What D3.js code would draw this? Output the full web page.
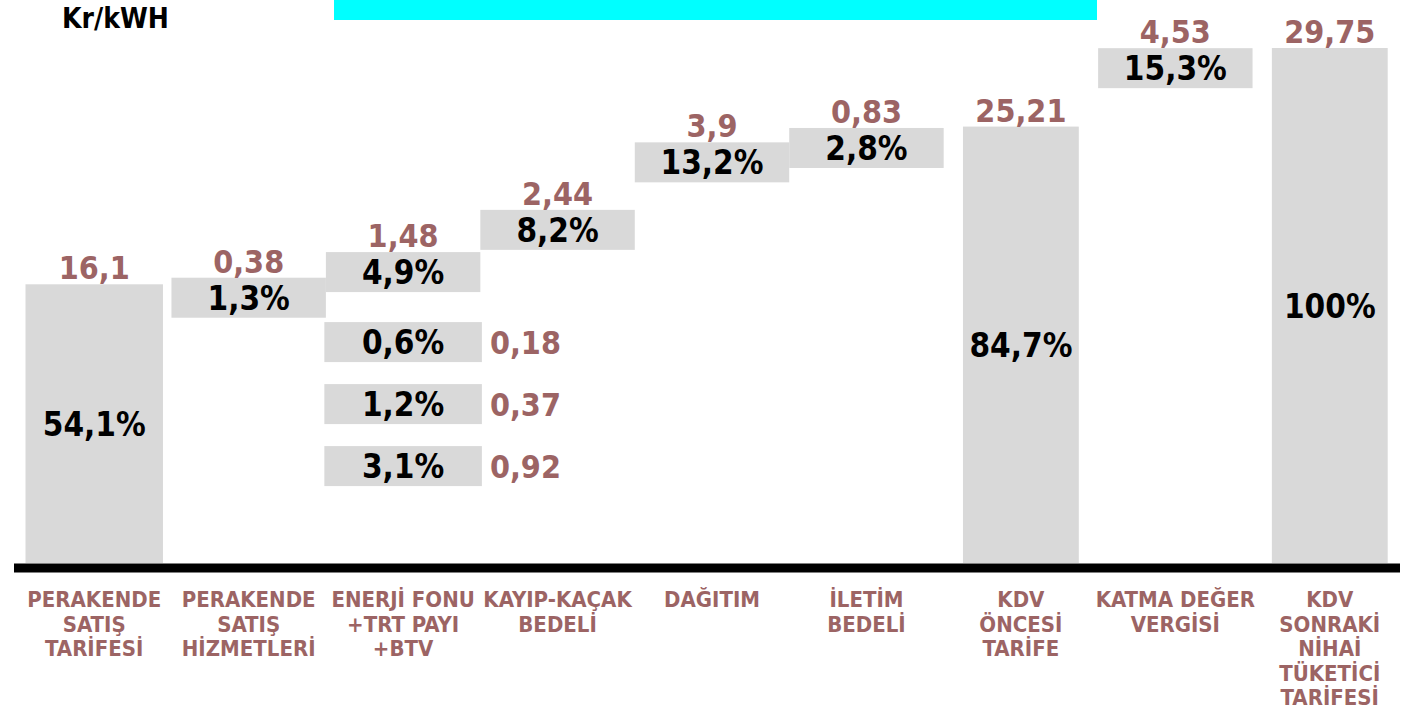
<!DOCTYPE html>
<html>
<head>
<meta charset="utf-8">
<script src="https://cdn.jsdelivr.net/npm/d3@7"></script>
<style>
    html, body { margin: 0; padding: 0; background: #fff; overflow: hidden; }
    text { font-family: "DejaVu Sans Condensed", "DejaVu Sans", sans-serif; font-stretch: condensed; font-weight: bold; }
</style>
</head>
<body>
<div id="chart"></div>
<script>
// Kalemler (soldan saga)
const categories = [
    ["PERAKENDE", "SATIŞ", "TARİFESİ"],
    ["PERAKENDE", "SATIŞ", "HİZMETLERİ"],
    ["ENERJİ FONU", "+TRT PAYI", "+BTV"],
    ["KAYIP-KAÇAK", "BEDELİ"],
    ["DAĞITIM"],
    ["İLETİM", "BEDELİ"],
    ["KDV", "ÖNCESİ", "TARİFE"],
    ["KATMA DEĞER", "VERGİSİ"],
    ["KDV", "SONRAKİ", "NİHAİ", "TÜKETİCİ", "TARİFESİ"]
];
// start = ilk sutun, step = ara kalem, total = ara/nihai toplam
const kinds = ["start", "step", "step", "step", "step", "step", "total", "step", "total"];
const values = [16.1, 0.38, 1.48, 2.44, 3.9, 0.83, 25.21, 4.53, 29.75];
const shares = [54.1, 1.3, 4.9, 8.2, 13.2, 2.8, 84.7, 15.3, 100];

// ENERJİ FONU + TRT PAYI + BTV kirilimi
const subItems = ["Enerji Fonu", "TRT Payı", "BTV"];
const subValues = [0.18, 0.37, 0.92];
const subShares = [0.6, 1.2, 3.1];

const unitLabel = "Kr/kWH";

const config = {
    WIDTH: 1411,
    HEIGHT: 709,
    BASELINE: 563,
    TOP: 48,
    LEFT: 17,
    RIGHT: 1407,
    BOX_H: 40,
    SUB_GAP: 30,
    SUB_STEP: 62,
    GREY: '#d9d9d9',
    BROWN: '#9c6464',
    WIDTHS: { start: 0.89, step: 1.0, total: 0.75 }
};

const fmt = v => String(v).replace('.', ',');
const fmtPct = v => fmt(v) + '%';

const svg = d3.select('#chart')
    .append('svg')
    .attr('width', config.WIDTH)
    .attr('height', config.HEIGHT);

// running totals for the waterfall
let running = 0;
const rows = values.map((v, i) => {
    let lo, hi;
    if (kinds[i] === 'total') {
        lo = 0; hi = v; running = v;
    } else {
        lo = running; hi = running + v; running = hi;
    }
    return { i, kind: kinds[i], value: v, share: shares[i], lo, hi, lines: categories[i] };
});

const x = d3.scaleBand()
    .domain(d3.range(categories.length))
    .range([config.LEFT, config.RIGHT])
    .padding(0);

const y = d3.scaleLinear()
    .domain([0, d3.max(values)])
    .range([config.BASELINE, config.TOP]);

const step = x.step();
const cx = i => x(i) + x.bandwidth() / 2;
const barW = d => step * config.WIDTHS[d.kind];
// floating boxes hang a fixed height below their end level
const barTop = d => y(d.hi);
const barBottom = d => d.kind === 'step' ? y(d.hi) + config.BOX_H : y(d.lo);

// cyan title strip (clipped at the top of the slide)
svg.append('rect')
    .attr('x', 334).attr('y', -20)
    .attr('width', 763).attr('height', 40)
    .attr('fill', '#00ffff');

svg.append('text')
    .attr('x', 62).attr('y', 28)
    .style('font-size', '28px')
    .attr('fill', '#000')
    .text(unitLabel);

// bars / boxes
svg.selectAll('rect.bar')
    .data(rows)
    .join('rect')
    .attr('class', 'bar')
    .attr('x', d => cx(d.i) - barW(d) / 2)
    .attr('y', barTop)
    .attr('width', barW)
    .attr('height', d => barBottom(d) - barTop(d))
    .attr('fill', config.GREY);

// values above the boxes
svg.selectAll('text.val')
    .data(rows)
    .join('text')
    .attr('class', 'val')
    .attr('x', d => cx(d.i))
    .attr('y', d => barTop(d) - 5)
    .attr('text-anchor', 'middle')
    .style('font-size', '32px')
    .attr('fill', config.BROWN)
    .text(d => fmt(d.value));

// shares inside the boxes
svg.selectAll('text.pct')
    .data(rows)
    .join('text')
    .attr('class', 'pct')
    .attr('x', d => cx(d.i))
    .attr('y', d => (barTop(d) + barBottom(d)) / 2 + 12)
    .attr('text-anchor', 'middle')
    .style('font-size', '33px')
    .attr('fill', '#000')
    .text(d => fmtPct(d.share));

// breakdown of column 3 stacked under its box
const parent = rows[2];
const subTop = barBottom(parent) + config.SUB_GAP;
const ySub = d3.scaleBand()
    .domain(subItems)
    .range([subTop, subTop + (subItems.length - 1) * config.SUB_STEP + config.BOX_H])
    .paddingInner((config.SUB_STEP - config.BOX_H) / config.SUB_STEP)
    .paddingOuter(0);

const subW = step * 1.02;
const subX = cx(parent.i) - subW / 2;

const sub = svg.selectAll('g.sub')
    .data(subItems.map((name, k) => ({ name, value: subValues[k], share: subShares[k] })))
    .join('g')
    .attr('class', 'sub')
    .attr('transform', d => `translate(0, ${ySub(d.name)})`);

sub.append('rect')
    .attr('x', subX)
    .attr('width', subW)
    .attr('height', ySub.bandwidth())
    .attr('fill', config.GREY);

sub.append('text')
    .attr('x', subX + subW / 2)
    .attr('y', ySub.bandwidth() / 2 + 12)
    .attr('text-anchor', 'middle')
    .style('font-size', '33px')
    .attr('fill', '#000')
    .text(d => fmtPct(d.share));

sub.append('text')
    .attr('x', subX + subW + 8)
    .attr('y', ySub.bandwidth() / 2 + 12)
    .style('font-size', '32px')
    .attr('fill', config.BROWN)
    .text(d => fmt(d.value));

// thick base line
svg.append('line')
    .attr('x1', 14).attr('x2', 1400)
    .attr('y1', config.BASELINE + 5).attr('y2', config.BASELINE + 5)
    .attr('stroke', '#000')
    .attr('stroke-width', 9);

// category labels
const cat = svg.selectAll('text.cat')
    .data(rows)
    .join('text')
    .attr('class', 'cat')
    .attr('text-anchor', 'middle')
    .style('font-size', '22px')
    .attr('fill', config.BROWN);

cat.selectAll('tspan')
    .data(d => d.lines.map((line, k) => ({ line, k, i: d.i })))
    .join('tspan')
    .attr('x', d => cx(d.i))
    .attr('y', d => 607 + d.k * 24.5)
    .text(d => d.line);
</script>
</body>
</html>
